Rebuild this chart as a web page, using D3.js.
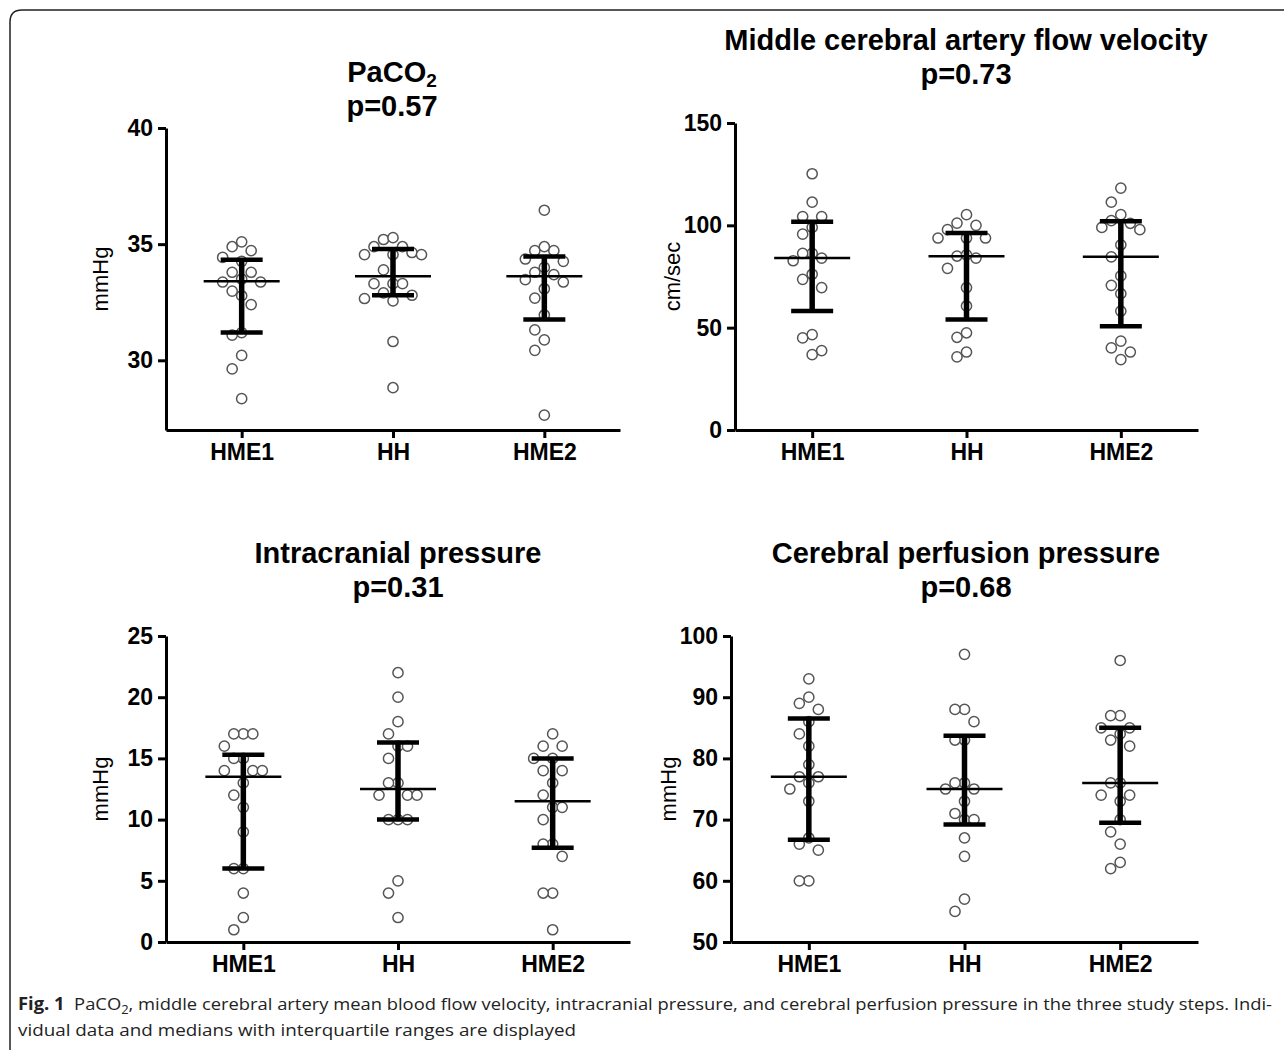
<!DOCTYPE html>
<html>
<head>
<meta charset="utf-8">
<script src="https://cdn.jsdelivr.net/npm/d3@7"></script>
<style>
  body { margin: 0; background: #fff; }
  svg { display: block; }
  .axis text { font-family: "Liberation Sans", Arial, sans-serif; font-weight: bold; font-size: 23px; fill: #000; }
  .axis path, .axis line { stroke: #000; stroke-width: 3; }
</style>
</head>
<body>
<svg id="chart"></svg>
<script>
// Groups (study steps)
const groups = ["HME1", "HH", "HME2"];

// PaCO2 (mmHg)
const paco2HME1 = [34.72, 35.1, 34.89, 34.26, 34.43, 33.5, 33.79, 33.79, 33.37, 33.37, 32.98, 32.78, 32.4, 31.19, 31.08, 30.21, 29.63, 28.35];
const paco2HH = [34.89, 35.2, 35.28, 34.89, 34.64, 34.55, 34.55, 34.55, 33.89, 33.3, 33.3, 33.3, 32.8, 32.9, 32.56, 32.66, 30.81, 28.82];
const paco2HME2 = [36.46, 34.72, 34.72, 34.89, 34.36, 34.26, 34.0, 33.79, 33.69, 33.47, 33.37, 33.08, 32.68, 31.95, 31.31, 30.88, 30.43, 27.64];
const paco2Median = [33.4, 33.62, 33.62];
const paco2Q1 = [31.2, 32.8, 31.76];
const paco2Q3 = [34.33, 34.79, 34.47];
const paco2Ticks = [30, 35, 40];

// Middle cerebral artery flow velocity (cm/sec)
const mcaHME1 = [125.2, 111.3, 104.3, 104.3, 99, 95.7, 86.3, 86.3, 84, 82.7, 76.1, 73.6, 69.6, 46.6, 45, 38.8, 36.8];
const mcaHH = [105.2, 101.1, 100, 97.9, 93.8, 93.8, 93.8, 85, 84, 85.6, 79, 69.6, 60.6, 47.5, 45.3, 38.1, 35.7];
const mcaHME2 = [118.2, 111.3, 105.2, 102.3, 101, 99, 97.9, 90.5, 84.6, 75.3, 70.7, 66.6, 58.1, 43.4, 40.1, 38.1, 34.4];
const mcaMedian = [84, 84.9, 84.6];
const mcaQ1 = [58.1, 54, 50.7];
const mcaQ3 = [101.8, 96.2, 102];
const mcaTicks = [0, 50, 100, 150];

// Intracranial pressure (mmHg)
const icpHME1 = [17, 17, 17, 16, 15, 15, 14, 14, 14, 13, 12, 11, 9, 6, 6, 4, 2, 1];
const icpHH = [22, 20, 18, 17, 16, 16, 15, 13, 13, 12, 12, 12, 10, 10, 10, 5, 4, 2];
const icpHME2 = [17, 16, 16, 15, 15, 14, 14, 13, 12, 11, 11, 10, 8, 8, 7, 4, 4, 1];
const icpMedian = [13.5, 12.5, 11.5];
const icpQ1 = [6, 10, 7.7];
const icpQ3 = [15.3, 16.3, 15];
const icpTicks = [0, 5, 10, 15, 20, 25];

// Cerebral perfusion pressure (mmHg)
const cppHME1 = [93, 90, 89, 88, 86, 84, 82, 79, 77, 77, 76, 75, 73, 67, 66, 65, 60, 60];
const cppHH = [97, 88, 88, 86, 83, 83, 76, 76, 75, 75, 73, 71, 70, 70, 67, 64, 57, 55];
const cppHME2 = [96, 87, 87, 85, 85, 84, 83, 82, 76, 76, 74, 74, 73, 70, 68, 66, 63, 62];
const cppMedian = [77, 75, 76];
const cppQ1 = [66.7, 69.2, 69.5];
const cppQ3 = [86.5, 83.7, 85];
const cppTicks = [50, 60, 70, 80, 90, 100];

const width = 1284;
const height = 1050;

const svg = d3.select("#chart")
    .attr("width", width)
    .attr("height", height);

// figure frame (rounded top-left corner, open at right and bottom)
svg.append("path")
    .attr("d", "M1284,10 H22 Q10,10 10,22 V1050")
    .attr("fill", "none")
    .attr("stroke", "#222")
    .attr("stroke-width", 1.5);

const panels = [
    { title: "PaCO", sub: "2", p: "p=0.57", unit: "mmHg", domain: [27, 40], ticks: paco2Ticks,
      pts: [paco2HME1, paco2HH, paco2HME2], med: paco2Median, q1: paco2Q1, q3: paco2Q3,
      l: 166, r: 620, t: 128, b: 430, titleX: 392, titleY: 82, unitX: 100 },
    { title: "Middle cerebral artery flow velocity", p: "p=0.73", unit: "cm/sec", domain: [0, 150], ticks: mcaTicks,
      pts: [mcaHME1, mcaHH, mcaHME2], med: mcaMedian, q1: mcaQ1, q3: mcaQ3,
      l: 735, r: 1198, t: 123, b: 430, titleX: 966, titleY: 50, unitX: 672 },
    { title: "Intracranial pressure", p: "p=0.31", unit: "mmHg", domain: [0, 25], ticks: icpTicks,
      pts: [icpHME1, icpHH, icpHME2], med: icpMedian, q1: icpQ1, q3: icpQ3,
      l: 166, r: 630, t: 636, b: 942, titleX: 398, titleY: 563, unitX: 100 },
    { title: "Cerebral perfusion pressure", p: "p=0.68", unit: "mmHg", domain: [50, 100], ticks: cppTicks,
      pts: [cppHME1, cppHH, cppHME2], med: cppMedian, q1: cppQ1, q3: cppQ3,
      l: 731, r: 1198, t: 636, b: 942, titleX: 966, titleY: 563, unitX: 668 }
];

// simple dodge so that close values spread sideways like a scatter dot plot
function dodge(values, y, step, minDy) {
    const placed = [];
    const order = values.map((v, i) => i).sort((a, b) => values[b] - values[a]);
    const slots = [0, -1, 1, -2, 2, -3, 3, -4, 4, -5, 5];
    const out = new Array(values.length);
    order.forEach(i => {
        const py = y(values[i]);
        const s = slots.find(k => !placed.some(p => Math.abs(p.k - k) < 1 && Math.abs(p.py - py) < minDy));
        placed.push({ k: s, py: py });
        out[i] = { value: values[i], dx: s * step };
    });
    return out;
}

panels.forEach(P => {
    const g = svg.append("g");

    const x = d3.scalePoint().domain(groups).range([P.l, P.r]).padding(0.5);
    const y = d3.scaleLinear().domain(P.domain).range([P.b, P.t]);

    // title
    const t1 = g.append("text")
        .attr("x", P.titleX).attr("y", P.titleY)
        .attr("text-anchor", "middle")
        .style("font-family", "'Liberation Sans', Arial, sans-serif")
        .style("font-weight", "bold")
        .style("font-size", "29px")
        .text(P.title);
    if (P.sub) {
        t1.append("tspan").attr("dy", 5).style("font-size", "19px").text(P.sub);
    }
    g.append("text")
        .attr("x", P.titleX).attr("y", P.titleY + 34)
        .attr("text-anchor", "middle")
        .style("font-family", "'Liberation Sans', Arial, sans-serif")
        .style("font-weight", "bold")
        .style("font-size", "29px")
        .text(P.p);

    // axes
    g.append("g")
        .attr("class", "axis")
        .attr("transform", `translate(${P.l},0)`)
        .call(d3.axisLeft(y).tickValues(P.ticks).tickSize(8).tickSizeOuter(0).tickPadding(5));
    g.append("g")
        .attr("class", "axis")
        .attr("transform", `translate(0,${P.b})`)
        .call(d3.axisBottom(x).tickSize(8).tickSizeOuter(0).tickPadding(6));

    // y label
    g.append("text")
        .attr("transform", `translate(${P.unitX},${(P.t + P.b) / 2}) rotate(-90)`)
        .attr("text-anchor", "middle")
        .attr("dy", "0.35em")
        .style("font-family", "'Liberation Sans', Arial, sans-serif")
        .style("font-size", "22px")
        .text(P.unit);

    groups.forEach((grp, gi) => {
        const cx = x(grp);
        const pts = dodge(P.pts[gi], y, 9.5, 16);

        g.append("g").selectAll("circle")
            .data(pts)
            .join("circle")
            .attr("cx", d => cx + d.dx)
            .attr("cy", d => y(d.value))
            .attr("r", 5.1)
            .attr("fill", "#fff")
            .attr("stroke", "#555")
            .attr("stroke-width", 1.5);

        // interquartile range
        g.append("line")
            .attr("x1", cx).attr("x2", cx)
            .attr("y1", y(P.q1[gi])).attr("y2", y(P.q3[gi]))
            .attr("stroke", "#000").attr("stroke-width", 5.5);
        [P.q1[gi], P.q3[gi]].forEach(v => {
            g.append("line")
                .attr("x1", cx - 21).attr("x2", cx + 21)
                .attr("y1", y(v)).attr("y2", y(v))
                .attr("stroke", "#000").attr("stroke-width", 4.5);
        });
        // median
        g.append("line")
            .attr("x1", cx - 38).attr("x2", cx + 38)
            .attr("y1", y(P.med[gi])).attr("y2", y(P.med[gi]))
            .attr("stroke", "#000").attr("stroke-width", 2.5);
    });
});

// caption
const cap = svg.append("g")
    .style("font-family", "'Open Sans', sans-serif")
    .style("font-size", "17px")
    .style("fill", "#222");

const c1 = cap.append("text")
    .attr("x", 18).attr("y", 1010)
    .attr("textLength", 1254)
    .attr("lengthAdjust", "spacingAndGlyphs");
c1.append("tspan").style("font-weight", "bold").text("Fig. 1");
c1.append("tspan").text("\u00a0\u00a0PaCO");
c1.append("tspan").attr("dy", 4).style("font-size", "12px").text("2");
c1.append("tspan").attr("dy", -4).text(", middle cerebral artery mean blood flow velocity, intracranial pressure, and cerebral perfusion pressure in the three study steps. Indi-");

cap.append("text")
    .attr("x", 18).attr("y", 1036)
    .attr("textLength", 558)
    .attr("lengthAdjust", "spacingAndGlyphs")
    .text("vidual data and medians with interquartile ranges are displayed");
</script>
</body>
</html>
